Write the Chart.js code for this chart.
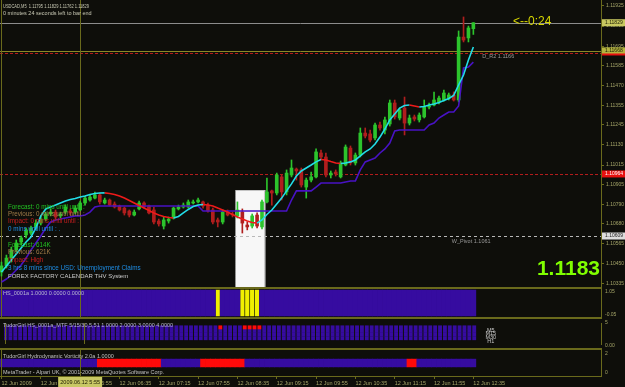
<!DOCTYPE html>
<html><head><meta charset="utf-8">
<script src="https://cdn.jsdelivr.net/npm/chart.js@4.4.1/dist/chart.umd.min.js"></script>
<style>
html,body{margin:0;padding:0;background:#0e0e0a;overflow:hidden}
#w{position:relative;width:625px;height:387px;background:#0e0e0a;overflow:hidden}
#w canvas{position:absolute;left:0}
.sep{position:absolute;left:0;width:602px;height:2px;background:#6a6a1c}
</style></head><body>
<div id="w">
<canvas id="cMain" width="625" height="287" style="top:0"></canvas>
<div class="sep" style="top:287px"></div>
<canvas id="cHS" width="625" height="28" style="top:289px"></canvas>
<div class="sep" style="top:317px"></div>
<canvas id="cMTF" width="625" height="29" style="top:319px"></canvas>
<div class="sep" style="top:348px"></div>
<canvas id="cVort" width="625" height="37" style="top:350px"></canvas>
</div>
<script>
// ---------------- DATA ----------------
const timeLabels = ['12 Jun 2009','12 Jun 05:15','12 Jun 05:55','12 Jun 06:35','12 Jun 07:15','12 Jun 07:55','12 Jun 08:35','12 Jun 09:15','12 Jun 09:55','12 Jun 10:35','12 Jun 11:15','12 Jun 11:55','12 Jun 12:35'];
const priceTicks = [1.11925,1.11810,1.11695,1.11585,1.11470,1.11355,1.11245,1.11130,1.11015,1.10905,1.10790,1.10680,1.10565,1.10450,1.10335];

const open = [1.10403,1.10438,1.10483,1.10529,1.10575,1.10615,1.10626,1.10655,1.10683,1.10706,
1.10735,1.10746,1.10724,1.10746,1.10752,1.10746,1.10758,1.10798,1.10815,1.10826,
1.10844,1.10798,1.10815,1.10792,1.10781,1.10769,1.10752,1.10729,1.10764,1.10798,
1.10781,1.10758,1.10695,1.10666,1.10695,1.10712,1.10764,1.10775,1.10775,1.10798,
1.10804,1.10804,1.10786,1.10758,1.10701,1.10689,1.10746,1.10735,1.10724,1.10746,
1.10672,1.10666,1.10729,1.10661,1.10804,1.10867,1.10855,1.10947,1.10861,1.10958,
1.10992,1.10987,1.10889,1.10929,1.10947,1.11084,1.11061,1.10958,1.10975,1.10947,
1.11015,1.11112,1.11027,1.11072,1.11198,1.11193,1.11170,1.11244,1.11215,1.11250,
1.11370,1.11284,1.11341,1.11255,1.11290,1.11273,1.11290,1.11347,1.11358,1.11376,
1.11387,1.11398,1.11416,1.11387,1.11747,1.11742,1.11795];
const close = [1.10438,1.10483,1.10529,1.10569,1.10598,1.10644,1.10655,1.10683,1.10706,1.10735,
1.10746,1.10718,1.10735,1.10775,1.10741,1.10769,1.10798,1.10826,1.10832,1.10844,
1.10804,1.10815,1.10786,1.10775,1.10758,1.10741,1.10729,1.10746,1.10798,1.10775,
1.10741,1.10689,1.10678,1.10701,1.10706,1.10769,1.10775,1.10786,1.10804,1.10804,
1.10815,1.10781,1.10752,1.10689,1.10689,1.10746,1.10729,1.10729,1.10758,1.10683,
1.10661,1.10724,1.10666,1.10804,1.10861,1.10855,1.10958,1.10861,1.10969,1.10998,
1.10981,1.10901,1.10929,1.10947,1.11090,1.11061,1.10958,1.10969,1.10964,1.11027,
1.11118,1.11027,1.11072,1.11198,1.11181,1.11158,1.11244,1.11227,1.11273,1.11370,
1.11290,1.11330,1.11255,1.11284,1.11278,1.11301,1.11347,1.11353,1.11387,1.11398,
1.11427,1.11416,1.11387,1.11747,1.11730,1.11799,1.11829];
const high = [1.10460,1.10500,1.10546,1.10586,1.10609,1.10655,1.10666,1.10701,1.10724,1.10746,
1.10764,1.10758,1.10746,1.10786,1.10764,1.10781,1.10809,1.10838,1.10844,1.10861,
1.10855,1.10826,1.10821,1.10804,1.10786,1.10775,1.10758,1.10758,1.10809,1.10804,
1.10786,1.10775,1.10706,1.10718,1.10718,1.10775,1.10786,1.10798,1.10815,1.10815,
1.10826,1.10809,1.10798,1.10769,1.10712,1.10758,1.10758,1.10746,1.10804,1.10764,
1.10689,1.10735,1.10741,1.10815,1.10941,1.10872,1.10969,1.10958,1.10987,1.11044,
1.10998,1.10998,1.10941,1.10975,1.11107,1.11101,1.11084,1.10981,1.10987,1.11038,
1.11130,1.11124,1.11084,1.11227,1.11227,1.11215,1.11255,1.11261,1.11290,1.11387,
1.11387,1.11341,1.11404,1.11301,1.11301,1.11313,1.11387,1.11370,1.11433,1.11410,
1.11444,1.11427,1.11433,1.11782,1.11862,1.11810,1.11829];
const low = [1.10380,1.10426,1.10460,1.10518,1.10558,1.10598,1.10615,1.10644,1.10672,1.10695,
1.10724,1.10706,1.10712,1.10735,1.10729,1.10735,1.10752,1.10786,1.10809,1.10821,
1.10792,1.10792,1.10781,1.10769,1.10752,1.10729,1.10718,1.10724,1.10758,1.10769,
1.10735,1.10678,1.10666,1.10649,1.10683,1.10706,1.10758,1.10769,1.10769,1.10792,
1.10798,1.10769,1.10746,1.10678,1.10661,1.10678,1.10724,1.10718,1.10712,1.10626,
1.10644,1.10655,1.10655,1.10649,1.10798,1.10786,1.10844,1.10815,1.10844,1.10947,
1.10929,1.10889,1.10826,1.10918,1.10941,1.11050,1.10947,1.10941,1.10952,1.10941,
1.11010,1.11015,1.11015,1.11061,1.11170,1.11147,1.11158,1.11215,1.11193,1.11238,
1.11278,1.11273,1.11187,1.11244,1.11267,1.11261,1.11284,1.11336,1.11353,1.11364,
1.11381,1.11387,1.11381,1.11376,1.11719,1.11719,1.11762];
const maLine = [1.10403,1.10438,1.10472,1.10506,1.10540,1.10575,1.10603,1.10655,1.10724,1.10764,
1.10775,1.10786,1.10798,1.10809,1.10818,1.10824,1.10832,1.10838,1.10847,1.10852,
1.10855,1.10856,1.10852,1.10847,1.10838,1.10826,1.10812,1.10798,1.10784,1.10769,
1.10755,1.10741,1.10729,1.10721,1.10715,1.10712,1.10721,1.10741,1.10761,1.10778,
1.10786,1.10789,1.10786,1.10781,1.10769,1.10758,1.10746,1.10732,1.10718,1.10706,
1.10695,1.10686,1.10683,1.10701,1.10732,1.10758,1.10792,1.10826,1.10867,1.10907,
1.10952,1.10981,1.10998,1.11015,1.11033,1.11047,1.11044,1.11035,1.11027,1.11024,
1.11027,1.11033,1.11044,1.11067,1.11090,1.11107,1.11135,1.11175,1.11221,1.11273,
1.11307,1.11341,1.11356,1.11358,1.11353,1.11347,1.11350,1.11358,1.11364,1.11373,
1.11384,1.11396,1.11413,1.11473,1.11530,1.11616,1.11690];
const trailLine = [1.10346,1.10363,1.10386,1.10415,1.10443,1.10483,1.10529,1.10569,1.10609,1.10655,
1.10689,1.10701,1.10706,1.10712,1.10718,1.10724,1.10724,1.10729,1.10746,1.10775,
1.10781,1.10781,1.10781,1.10781,1.10781,1.10781,1.10781,1.10781,1.10781,1.10781,
1.10781,1.10781,1.10781,1.10781,1.10781,1.10781,1.10781,1.10781,1.10781,1.10781,
1.10781,1.10752,1.10752,1.10752,1.10752,1.10752,1.10752,1.10752,1.10752,1.10752,
1.10752,1.10752,1.10752,1.10752,1.10752,1.10752,1.10752,1.10752,1.10752,1.10815,
1.10867,1.10867,1.10867,1.10867,1.10889,1.10912,1.10912,1.10912,1.10912,1.10912,
1.10918,1.10924,1.10924,1.10987,1.11033,1.11044,1.11055,1.11084,1.11107,1.11141,
1.11210,1.11215,1.11215,1.11215,1.11215,1.11215,1.11215,1.11244,1.11255,1.11284,
1.11301,1.11318,1.11318,1.11353,1.11570,1.11576,1.11604];

const hsSignal = '0000000000 0000000000 0000000000 0000000000 0000100001 1110000000 0000000000 0000000000 0000000000 0000000'.replace(/ /g,'').split('').map(Number);
const mtfM5    = '0000000000 0000000000 0000000000 0000000000 0000100001 1110000000 0000000000 0000000000 0000000000 0000000'.replace(/ /g,'').split('').map(Number);
const mtfM15   = '0000000000 0000000000 0000000000 0000000000 0000000000 0000000000 0000000000 0000000000 0000000000 0000000'.replace(/ /g,'').split('').map(Number);
const mtfM30   = '0000000000 0000000000 0000000000 0000000000 0000000000 0000000000 0000000000 0000000000 0000000000 0000000'.replace(/ /g,'').split('').map(Number);
const mtfH1    = '0000000000 0000000000 0000000000 0000000000 0000000000 0000000000 0000000000 0000000000 0000000000 0000000'.replace(/ /g,'').split('').map(Number);
const vortRed  = '0000000000 0000000000 1111111111 1110000000 0111111111 0000000000 0000000000 0000000000 0001100000 0000000'.replace(/ /g,'').split('').map(Number);

const levelValues = [1.11829, 1.11668, 1.11656, 1.10964, 1.10609]; // bid, D_R2, red level, red level, W_Pivot
const newsWindow = [47.6, 53.7, 1.10872];   // bar from, bar to, top price
const markerBars = [0, 16];
const headerLines = ['USDCAD,M5  1.11795 1.11829 1.11762 1.11829', '0 minutes 24 seconds left to bar end'];
const newsLines = ['Forecast: 0 mins until until :','Previous: 0 mins until until :','Impact: 0 mins until until :','0 mins until until : .','Forecast: 614K','Previous: 621K','Impact: High','3 hrs 8 mins since USD: Unemployment Claims','FOREX FACTORY CALENDAR THV System'];
const bigPrice = '1.1183';
const countdown = '<--0:24';

// ---------------- STYLE ----------------
const FONT = '"Liberation Sans", Arial, sans-serif';
const OLIVE = '#6a6a1c', AXIS_TXT = '#a4a468';
const BULL = '#2cc42c', BEAR = '#b01e1e';
const MA_UP = '#22dde8', MA_DOWN = '#ee1a1a', TRAIL = '#4812c4';
const INDIGO = '#360ca0', YELLOW = '#f0f000', SIGRED = '#ff0a0a';
const X_MIN = -0.305, X_MAX = 121.97;
const newsColors = ['#22c022','#a07c48','#c81e1e','#1e8ee6','#22c022','#a07c48','#c81e1e','#1e8ee6','#cccccc'];

const idx = open.map((_, i) => i);
const candleColor = idx.map(i => close[i] >= open[i] ? BULL : BEAR);

function txt(ctx, s, x, y, color, size, o = {}) {
  ctx.save();
  ctx.font = (o.bold ? 'bold ' : '') + size + 'px ' + FONT;
  ctx.fillStyle = color; ctx.textAlign = o.align || 'left'; ctx.textBaseline = o.base || 'middle';
  if (o.w) ctx.fillText(s, x, y, o.w); else ctx.fillText(s, x, y);
  ctx.restore();
}
function vLines(chart) {
  const {ctx, chartArea: a, scales: {x}} = chart;
  ctx.save(); ctx.strokeStyle = OLIVE; ctx.lineWidth = 1;
  markerBars.forEach(b => { const px = Math.round(x.getPixelForValue(b)) + 0.5; ctx.beginPath(); ctx.moveTo(px, a.top); ctx.lineTo(px, a.bottom); ctx.stroke(); });
  ctx.restore();
}
function xAxisHidden() { return {type:'linear', min:X_MIN, max:X_MAX, offset:false, display:false, grid:{offset:false}}; }
function subY(min, max) {
  return {type:'linear', position:'right', min, max,
    afterFit: s => { s.width = 24; s.paddingTop = 0; s.paddingBottom = 0; },
    ticks:{display:false}, grid:{display:false}, border:{color:OLIVE, dash:[1,1]}};
}
const baseOpts = {responsive:false, animation:false, devicePixelRatio:1, events:[], layout:{padding:0},
  plugins:{legend:{display:false}, tooltip:{enabled:false}}};

// ---------------- MAIN CHART ----------------
const mainDecor = {
  id:'mainDecor',
  beforeDatasetsDraw(chart) {
    const {ctx, chartArea: a, scales: {x, y}} = chart;
    ctx.save();
    const bx0 = x.getPixelForValue(newsWindow[0]), bx1 = x.getPixelForValue(newsWindow[1]), by = y.getPixelForValue(newsWindow[2]);
    ctx.fillStyle = '#f7f7f7'; ctx.fillRect(bx0, by, bx1 - bx0, a.bottom - by);
    ctx.strokeStyle = '#9a9a9a'; ctx.setLineDash([1, 1]); ctx.lineWidth = 1;
    ctx.strokeRect(Math.round(bx0) + 0.5, Math.round(by) + 0.5, bx1 - bx0 - 1, a.bottom - by);
    const styles = [['#8c8c8c', []], ['#8a8a24', []], ['#b41c1c', [3, 2]], ['#b41c1c', [3, 2]], ['#b8b8b8', [3, 3]]];
    levelValues.forEach((v, k) => {
      const py = Math.round(y.getPixelForValue(v)) + 0.5;
      ctx.strokeStyle = styles[k][0]; ctx.setLineDash(styles[k][1]);
      ctx.beginPath(); ctx.moveTo(a.left, py); ctx.lineTo(a.right, py); ctx.stroke();
    });
    ctx.setLineDash([]);
    ctx.restore();
    vLines(chart);
  },
  afterDraw(chart) {
    const {ctx, chartArea: a, scales: {x, y}} = chart;
    txt(ctx, headerLines[0], 3, 6, '#c8c8b4', 5.5, {w: 86});
    txt(ctx, headerLines[1], 3, 13, '#c8c8b4', 5.5, {w: 94});
    txt(ctx, countdown, 513, 22, '#d6d600', 12, {w: 43});
    txt(ctx, 'D_R2 1.1166', x.getPixelForValue(97.8), y.getPixelForValue(levelValues[1]) + 6, '#9a9a9a', 5.5);
    txt(ctx, 'W_Pivot 1.1061', x.getPixelForValue(91.6), y.getPixelForValue(levelValues[4]) + 5, '#9a9a9a', 5.5);
    txt(ctx, bigPrice, 600, 274.5, '#80ff00', 21, {bold: true, align: 'right', base: 'alphabetic'});
    const ny = [207, 214, 221, 229, 245, 252, 260, 268, 276];
    newsLines.forEach((s, k) => txt(ctx, s, 8, ny[k], newsColors[k], k === 8 ? 6 : 6.3));
    // price boxes on axis
    const boxes = [[levelValues[0], '#c8c860', '#1a1a00'], [levelValues[1], '#b4b440', '#1a1a00'], [levelValues[3], '#e81010', '#ffffff'], [levelValues[4], '#dcdcdc', '#202020']];
    boxes.forEach(([v, bg, fg]) => {
      const py = y.getPixelForValue(v);
      ctx.fillStyle = bg; ctx.fillRect(a.right + 1, py - 3.5, 24, 7);
      txt(ctx, v.toFixed(5), a.right + 4, py, fg, 5);
    });
    const pr = y.getPixelForValue(levelValues[2]);
    ctx.fillStyle = '#e81010'; ctx.fillRect(a.right + 1, pr + 0.5, 24, 2);
  }
};

new Chart(document.getElementById('cMain'), {
  type: 'bar',
  data: {datasets: [
    {type:'line', label:'MA', data: idx.map(i => ({x:i, y:maLine[i]})), borderWidth:1.6, pointRadius:0, borderColor:MA_UP,
      segment:{borderColor: c => c.p1.parsed.y < c.p0.parsed.y ? MA_DOWN : MA_UP}, order:0},
    {type:'line', label:'Trail', data: idx.map(i => ({x:i, y:trailLine[i]})), borderWidth:1.6, pointRadius:0, borderColor:TRAIL, order:0},
    {type:'bar', label:'Body', data: idx.map(i => ({x:i, y:[open[i], close[i]]})), backgroundColor:candleColor, barThickness:3, grouped:false, minBarLength:1, order:1},
    {type:'bar', label:'Wick', data: idx.map(i => ({x:i, y:[low[i], high[i]]})), backgroundColor:candleColor, barThickness:1, grouped:false, order:2}
  ]},
  options: Object.assign({}, baseOpts, {scales: {
    x: xAxisHidden(),
    y: {type:'linear', position:'right', min:1.103174, max:1.11959,
      afterBuildTicks: s => { s.ticks = priceTicks.map(v => ({value:v})); },
      afterFit: s => { s.width = 24; s.paddingTop = 0; s.paddingBottom = 0; },
      ticks:{autoSkip:false, color:AXIS_TXT, padding:2, font:{family:FONT, size:5}, callback: v => Number(v).toFixed(5)},
      grid:{drawOnChartArea:false, color:OLIVE, tickLength:3},
      border:{color:OLIVE, dash:[1,1]}}
  }}),
  plugins: [mainDecor]
});

// ---------------- HS PANEL ----------------
const HS_LO = -0.1, HS_HI = 1.1;
new Chart(document.getElementById('cHS'), {
  type:'bar',
  data:{datasets:[
    {label:'HS base', data: idx.filter(i => !hsSignal[i]).map(i => ({x:i, y:[HS_LO, HS_HI]})), backgroundColor:INDIGO, barThickness:5, grouped:false},
    {label:'HS signal', data: idx.filter(i => hsSignal[i]).map(i => ({x:i, y:[HS_LO, HS_HI]})), backgroundColor:YELLOW, barThickness:3.6, grouped:false}
  ]},
  options: Object.assign({}, baseOpts, {scales:{x: xAxisHidden(), y: subY(-0.15, 1.15)}}),
  plugins:[{id:'hsDecor', afterDraw(chart){
    const {ctx} = chart; vLines(chart);
    txt(ctx, 'HS_0001a 1.0000 0.0000 0.0000', 3, 4, '#b8b8d0', 5.5);
    txt(ctx, '1.05', 605, 2.5, AXIS_TXT, 5); txt(ctx, '-0.05', 605, 25.5, AXIS_TXT, 5);
  }}]
});

// ---------------- MTF PANEL ----------------
const rows = [[mtfM5, 4, 'M5'], [mtfM15, 3, 'M15'], [mtfM30, 2, 'M30'], [mtfH1, 1, 'H1']];
new Chart(document.getElementById('cMTF'), {
  type:'line',
  data:{datasets: rows.map(([arr, v, name]) => ({label:name, data: idx.map(i => ({x:i, y:v})), showLine:false,
    pointStyle:'rect', pointRadius:2.75, pointBorderWidth:0, pointBackgroundColor: idx.map(i => arr[i] ? SIGRED : INDIGO)}))},
  options: Object.assign({}, baseOpts, {scales:{x: xAxisHidden(), y: subY(-0.6, 5.2)}}),
  plugins:[{id:'mtfDecor', afterDraw(chart){
    const {ctx, scales:{x, y}} = chart; vLines(chart);
    txt(ctx, 'TudorGirl HS_0001a_MTF 5/15/30,5,51 1.0000 2.0000 3.0000 4.0000', 3, 6, '#b8b8d0', 5.5);
    rows.forEach(([arr, v, name]) => txt(ctx, name, x.getPixelForValue(99.4), y.getPixelForValue(v) + 3, '#c8c8c8', 5.5, {align:'center'}));
    txt(ctx, '5', 605, 4, AXIS_TXT, 5); txt(ctx, '0.00', 605, 27, AXIS_TXT, 5);
  }}]
});

// ---------------- VORTICITY PANEL + TIME AXIS ----------------
new Chart(document.getElementById('cVort'), {
  type:'bar',
  data:{datasets:[
    {label:'Vorticity', data: idx.map(i => ({x:i, y:[0.7, 1.3]})), backgroundColor: idx.map(i => vortRed[i] ? SIGRED : INDIGO), barThickness:5, grouped:false}
  ]},
  options: Object.assign({}, baseOpts, {scales:{
    x:{type:'linear', min:X_MIN, max:X_MAX, offset:false, position:'bottom',
      afterBuildTicks: s => { s.ticks = timeLabels.map((_, k) => ({value:k * 8})); },
      afterFit: s => { s.height = 11; s.paddingLeft = 0; s.paddingRight = 0; },
      ticks:{autoSkip:false, maxRotation:0, align:'start', padding:1, color:AXIS_TXT, font:{family:FONT, size:5.5},
        callback: v => timeLabels[Math.round(v / 8)]},
      grid:{drawOnChartArea:false, tickLength:3, color:OLIVE, offset:false},
      border:{color:OLIVE}},
    y: subY(0, 2)
  }}),
  plugins:[{id:'vortDecor', afterDraw(chart){
    const {ctx, scales:{x}} = chart; vLines(chart);
    txt(ctx, 'TudorGirl Hydrodynamic Vorticity 2.0a 1.0000', 3, 6, '#c0c0c0', 5.5);
    txt(ctx, 'MetaTrader - Alpari UK, \u00a9 2001-2009 MetaQuotes Software Corp.', 3, 22, '#c0c0c0', 5.5);
    txt(ctx, '2', 605, 4, AXIS_TXT, 5); txt(ctx, '0', 605, 23, AXIS_TXT, 5);
    const px = x.getPixelForValue(markerBars[1]);
    ctx.fillStyle = '#c8c864'; ctx.fillRect(px - 22, 27, 44, 10);
    txt(ctx, '2009.06.12 5:55', px, 32, '#1c1c00', 5.5, {align:'center'});
  }}]
});
</script>
</body></html>
